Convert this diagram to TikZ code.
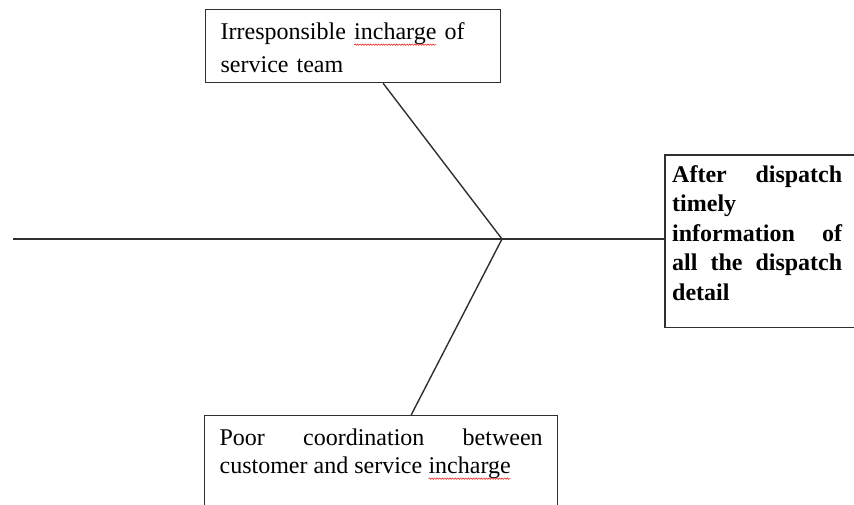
\documentclass[tikz,border=0pt]{standalone}
\usepackage{fontspec}
\setmainfont{Liberation Serif}
\usetikzlibrary{positioning,decorations.pathmorphing}
\definecolor{boneline}{HTML}{303030}
\definecolor{spellred}{HTML}{E0302A}

% wavy red mark under a word
\newcommand{\spellword}[1]{\tikz[baseline=(sw.base)]{\node[draw=none, inner sep=0pt, outer sep=0pt, text width=, text height=, text depth=, align=left, font=] (sw) {#1};\draw[spellred, line width=0.6pt, decorate, decoration={snake, amplitude=0.7pt, segment length=2.6pt}] ([yshift=-5pt]sw.base west) -- ([yshift=-5pt]sw.base east);}}

\begin{document}
\begin{tikzpicture}[x=1pt, y=1pt,
    causebox/.style={draw=boneline, line width=1.3pt, anchor=north west, inner xsep=15pt, inner ysep=0pt, text height=30pt},
    bone/.style={boneline, line width=1.4pt}
]
    \useasboundingbox (0,0) rectangle (854,504);

    % Cause 1: service team
    \node[causebox, text width=265pt, text depth=43pt, align=left, font=\fontsize{24}{33}\selectfont] (team) at (205,495) {
        Irresponsible \spellword{incharge} of\\
        service team};

    % Cause 2: coordination
    \node[causebox, text width=323pt, text depth=100pt, align=justify, font=\fontsize{24}{28}\selectfont] (coord) at (204,89) {
        Poor coordination between\linebreak
        customer and service \spellword{incharge}};

    % Effect (head of the fish)
    \node[anchor=north west, inner xsep=7pt, inner ysep=0pt, text width=170pt, text height=27pt, text depth=145pt, align=justify, font=\bfseries\fontsize{24}{29.5}\selectfont] (effect) at (665,349) {
        After dispatch\linebreak
        timely\\
        information of\linebreak
        all the dispatch\linebreak
        detail};
    \draw[draw=boneline, line width=1.3pt] (effect.south west) rectangle ([xshift=20pt]effect.north east);

    % Spine and bones
    \coordinate (tail) at (13,265);
    \coordinate (joint) at (502,265);
    \draw[bone] (tail) -- (tail -| effect.west);
    \draw[bone] (joint) -- ([xshift=30pt]team.south);
    \draw[bone] (joint) -- ([xshift=30pt]coord.north);
\end{tikzpicture}
\end{document}
